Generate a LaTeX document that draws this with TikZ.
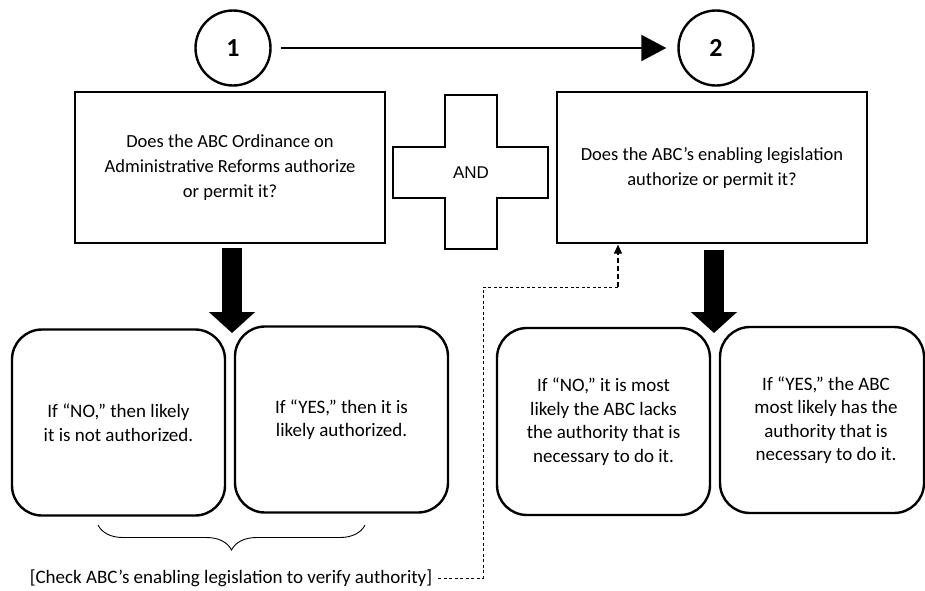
\documentclass[tikz,border=0pt]{standalone}
\usepackage{fontspec}
\setmainfont{Carlito}
\newfontfamily\arialf{Liberation Sans}
\usetikzlibrary{arrows.meta,decorations.pathreplacing,calc}
\begin{document}
\begin{tikzpicture}[x=1pt,y=-1pt,
  numcirc/.style={circle,draw,line width=2.4pt,minimum size=75pt,inner sep=0pt,font=\fontsize{26}{30}\selectfont\bfseries},
  qbox/.style={draw,line width=1.2pt,align=center,minimum width=310pt,minimum height=151pt,inner sep=0pt,font=\fontsize{18.5}{25}\selectfont},
  ansbox/.style={draw,line width=2.4pt,rounded corners=30pt,inner sep=0pt,minimum height=186pt},
  anstext/.style={align=center,inner sep=0pt,font=\fontsize{19}{23.5}\selectfont},
  bigarrow/.style={line width=20pt,-{Triangle[length=21pt,width=45pt]}},
  dashline/.style={line width=0.9pt,dash pattern=on 3pt off 2.5pt},
]
\useasboundingbox (0,0) rectangle (925,590);

% numbered circles
\node[numcirc] (c1) at (233,48) {1};
\node[numcirc] (c2) at (716,48) {2};
\draw[line width=2.2pt,-{Triangle[length=25pt,width=26pt]},shorten <=9pt,shorten >=11pt] (c1) -- (c2);

% question boxes
\node[qbox] (q1) at (230,167.5) {Does the ABC Ordinance on\\Administrative Reforms authorize\\or permit it?};
\node[qbox] (q2) at (712,167.5) {Does the ABC’s enabling legislation\\authorize or permit it?};

% AND cross
\draw[line width=1.2pt] (445,95) -- (497,95) -- (497,147) -- (548,147) -- (548,198)
  -- (497,198) -- (497,249) -- (445,249) -- (445,198) -- (393,198) -- (393,147)
  -- (445,147) -- cycle;
\node[font=\arialf\fontsize{17}{20}\selectfont] (and) at (471,173) {AND};

% answer boxes
\node[ansbox,minimum width=213pt] (l1) at (118.5,422.5) {};
\node[ansbox,minimum width=213pt] (l2) at (341.5,419.5) {};
\node[ansbox,minimum width=213pt,minimum height=187pt] (r1) at (603.5,421.5) {};
\node[ansbox,minimum width=204pt] (r2) at (822,420) {};

\node[anstext] (l1t) at (l1) {If “NO,” then likely\\it is not authorized.};
\node[anstext] (l2t) at (l2) {If “YES,” then it is\\likely authorized.};
\node[anstext] (r1t) at (r1) {If “NO,” it is most\\likely the ABC lacks\\the authority that is\\necessary to do it.};
\node[anstext] (r2t) at (826,420) {If “YES,” the ABC\\most likely has the\\authority that is\\necessary to do it.};

% thick arrows
\coordinate (t1) at (232,333);
\coordinate (t2) at (714,333);
\draw[bigarrow] ([yshift=-4pt]t1 |- q1.south) -- (t1);
\draw[bigarrow] ([yshift=-6pt]t2 |- q2.south) -- (t2);

% brace and check note
\draw[line width=0.9pt,decorate,decoration={brace,amplitude=25pt,mirror}] (98,525) -- (365,525);
\node[font=\fontsize{19}{23}\selectfont,inner sep=0pt] (chk) at (231,578) {[Check ABC’s enabling legislation to verify authority]};

\coordinate (bend) at (483,287);
\coordinate (cornr) at (618,287);
\draw[dashline] ([xshift=6pt]chk.east) -| (bend) -- (cornr);
\draw[line width=1.2pt,dash pattern=on 5pt off 3pt,-{Triangle[length=9pt,width=8pt]}] (cornr) -- ([yshift=-1pt]cornr |- q2.south);
\end{tikzpicture}
\end{document}
